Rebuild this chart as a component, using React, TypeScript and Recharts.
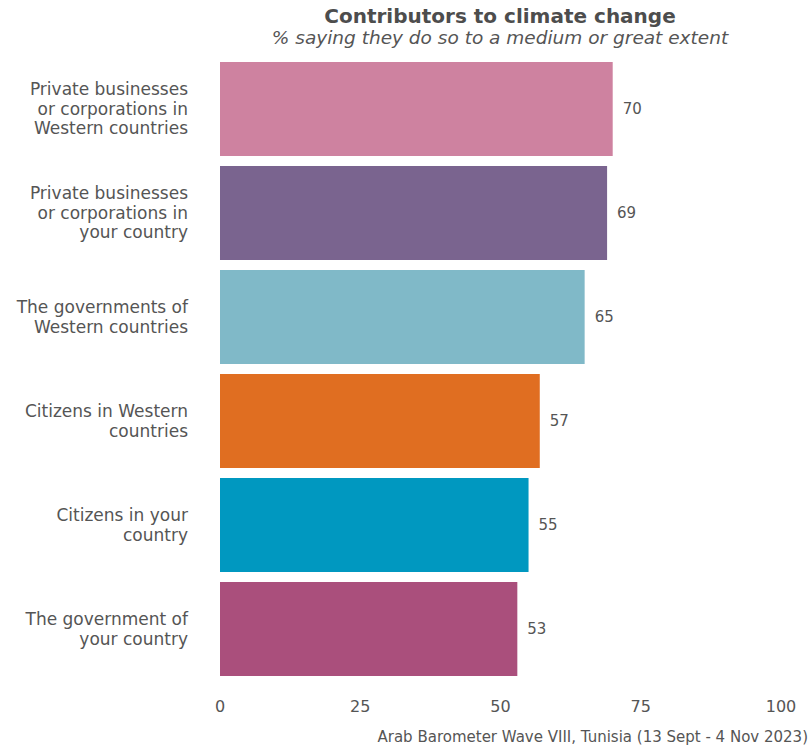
import { BarChart, Bar, XAxis, YAxis, Cell, LabelList } from "recharts";

const CATEGORIES = [
  "Private businesses\nor corporations in\nWestern countries",
  "Private businesses\nor corporations in\nyour country",
  "The governments of\nWestern countries",
  "Citizens in Western\ncountries",
  "Citizens in your\ncountry",
  "The government of\nyour country",
];
const VALUES = [70, 69, 65, 57, 55, 53];
const COLORS = ["#CE82A0", "#7A648F", "#80B9C8", "#E06E21", "#0098C0", "#AA4F7C"];
const X_TICKS = [0, 25, 50, 75, 100];

const FONT = "'DejaVu Sans', sans-serif";
const TEXT = "#555555";

const data = CATEGORIES.map((name, i) => ({ name, value: VALUES[i] }));

function CategoryTick({ x, y, payload }: any) {
  const lines = String(payload.value).split("\n");
  const lh = 19.5;
  const start = -((lines.length - 1) * lh) / 2;
  return (
    <text x={x} y={y} textAnchor="end" fill={TEXT} fontSize={17} fontFamily={FONT}>
      {lines.map((l, i) => (
        <tspan key={i} x={x} y={y + start + i * lh} dy="0.35em">
          {l}
        </tspan>
      ))}
    </text>
  );
}

export default function App() {
  return (
    <div style={{ position: "fixed", left: 0, top: 0, width: 812, height: 748, background: "#fff" }}>
      <BarChart
        width={812}
        height={748}
        data={data}
        layout="vertical"
        margin={{ top: 57, right: 31, bottom: 37, left: 0 }}
        barCategoryGap={5}
      >
        <text x={500} y={23} textAnchor="middle" fontFamily={FONT} fontWeight="bold" fontSize={20} fill="#4d4d4d">
          Contributors to climate change
        </text>
        <text x={500} y={44} textAnchor="middle" fontFamily={FONT} fontStyle="italic" fontSize={18.5} fill={TEXT}>
          % saying they do so to a medium or great extent
        </text>
        <XAxis
          type="number"
          domain={[0, 100]}
          ticks={X_TICKS}
          height={30}
          axisLine={false}
          tickLine={false}
          tickMargin={14}
          tick={{ fill: TEXT, fontSize: 16, fontFamily: FONT }}
        />
        <YAxis
          type="category"
          dataKey="name"
          width={220}
          axisLine={false}
          tickLine={false}
          tickMargin={26}
          tick={<CategoryTick />}
        />
        <Bar dataKey="value" isAnimationActive={false}>
          {data.map((d, i) => (
            <Cell key={d.name} fill={COLORS[i]} />
          ))}
          <LabelList dataKey="value" position="right" offset={10} fill={TEXT} fontSize={15} fontFamily={FONT} />
        </Bar>
        <text x={808} y={742} textAnchor="end" fontFamily={FONT} fontSize={15} fill={TEXT}>
          Arab Barometer Wave VIII, Tunisia (13 Sept - 4 Nov 2023)
        </text>
      </BarChart>
    </div>
  );
}
